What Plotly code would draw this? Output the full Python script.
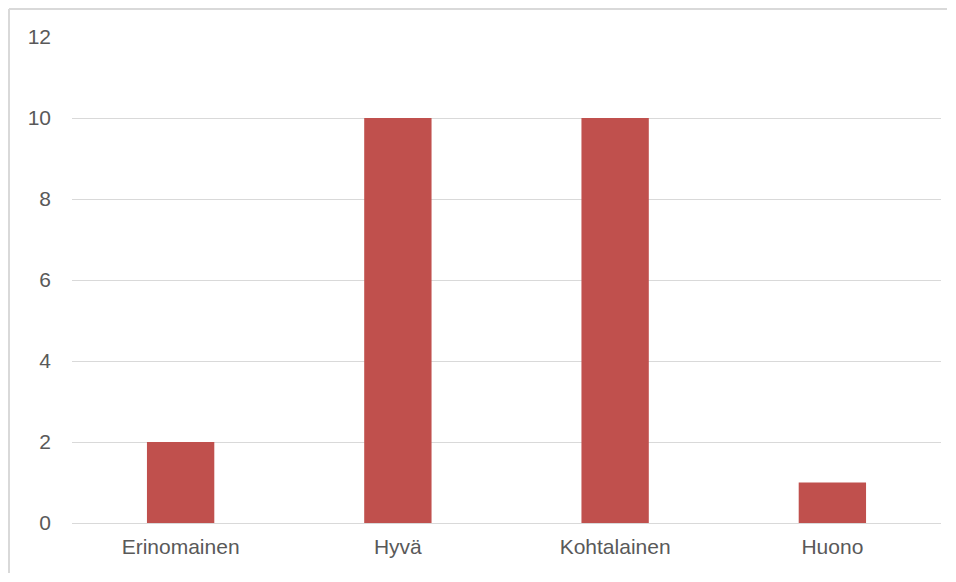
import plotly.graph_objects as go

categories = ["Erinomainen", "Hyvä", "Kohtalainen", "Huono"]
values = [2, 10, 10, 1]
y_ticks = [0, 2, 4, 6, 8, 10, 12]

BAR_COLOR = "#c0504d"
TEXT_COLOR = "#595959"
GRID_COLOR = "#d9d9d9"

fig = go.Figure(go.Bar(x=categories, y=values, marker_color=BAR_COLOR,
                       marker_line_width=0))

# page body has an 8px margin; keep the figure inside the window so no scrollbars
fig.update_layout(
    width=940, height=566,
    margin=dict(l=64, r=7, t=29, b=51),
    paper_bgcolor="white", plot_bgcolor="white",
    bargap=0.69,
    showlegend=False,
    font=dict(family="Liberation Sans, Arial, sans-serif", size=21, color=TEXT_COLOR),
)
fig.update_xaxes(showgrid=False, showline=False, ticks="", ticklabelstandoff=9)
fig.update_yaxes(range=[0, 12], tickvals=y_ticks, showgrid=True, gridcolor=GRID_COLOR,
                 gridwidth=1, zeroline=True, zerolinecolor=GRID_COLOR, zerolinewidth=1,
                 showline=False, ticks="", ticklabelstandoff=20)

# chart-area frame: only top and left edges are in view
frame = dict(color=GRID_COLOR, width=2)
fig.add_shape(type="line", xref="paper", yref="paper",
              x0=-0.0725, y0=1.0576, x1=1.0069, y1=1.0576, line=frame, layer="below")
fig.add_shape(type="line", xref="paper", yref="paper",
              x0=-0.0725, y0=1.0576, x1=-0.0725, y1=-0.1029, line=frame, layer="below")

fig.write_html("out.html")
